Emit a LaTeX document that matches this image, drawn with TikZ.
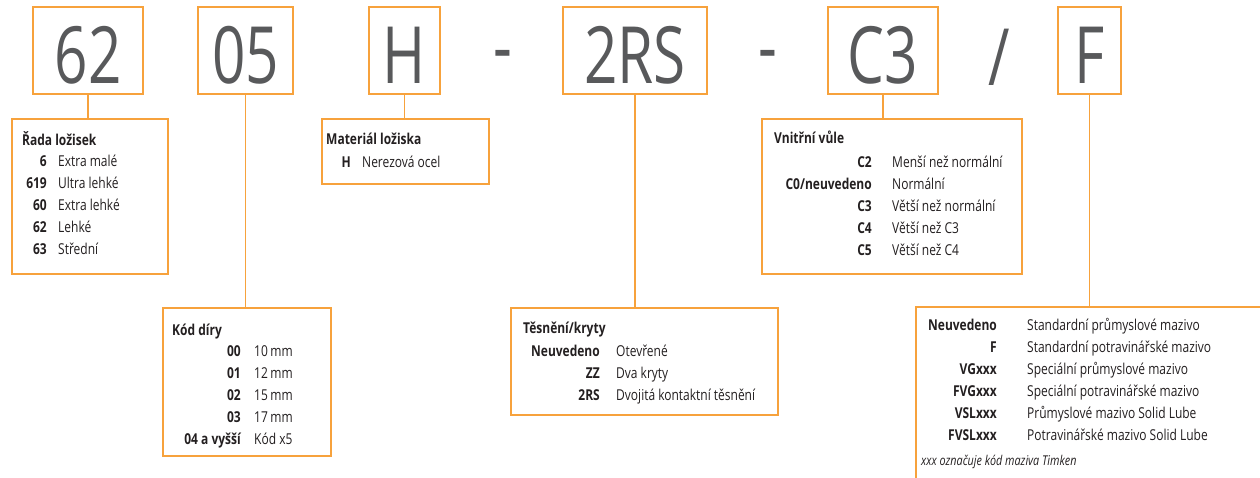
\documentclass[tikz,border=0pt]{standalone}
\usepackage{fontspec}
\setmainfont[FakeStretch=0.8]{Open Sans}
\newfontfamily\bigfont[FakeStretch=0.74]{Open Sans}
\usetikzlibrary{calc}
\definecolor{linkorange}{HTML}{F7A23C}
\definecolor{codegray}{HTML}{58595B}
\definecolor{textblack}{HTML}{231F20}
\newcommand{\legendsize}{\fontsize{15}{17}\selectfont}
\tikzset{
	link/.style={draw=linkorange, line width=1.5pt},
	codebox/.style={
			link, inner sep=0pt, text height=76pt, text depth=11pt,
			minimum width=#1, text=codegray,
			font=\bigfont\fontsize{79}{80}\selectfont
		},
	separator/.style={anchor=base, inner sep=0pt, text=codegray, font=\bigfont\fontsize{79}{80}\selectfont},
	legend/.style={link, anchor=north west, inner sep=0pt},
	title/.style={anchor=base west, inner sep=0pt, text=textblack, font=\bfseries\legendsize},
	code/.style={anchor=base east, inner sep=0pt, text=textblack, font=\bfseries\legendsize},
	desc/.style={anchor=base west, inner sep=0pt, text=textblack, font=\legendsize}
}

\begin{document}
\begin{tikzpicture}[x=1pt, y=-1pt]
		\useasboundingbox (0, 0) rectangle (1260, 477);
		\clip (0, 0) rectangle (1260, 477);

		% designation
		\node[codebox=110] (c62) at (88, 50.5) {62};
		\node[codebox=95] (c05) at (245.5, 50.5) {05};
		\node[codebox=71] (cH) at (404.5, 50.5) {H};
		\node[separator] (dash1) at (503, 74) {-};
		\node[codebox=144] (c2RS) at (635, 50.5) {2RS};
		\node[separator] (dash2) at (768, 74) {-};
		\node[codebox=110] (cC3) at (883, 50.5) {C3};
		\node[separator] (slash) at (999, 85) {/};
		\node[codebox=63] (cF) at (1089.5, 50.5) {F};

		% legend boxes
		\node[legend, minimum width=156, minimum height=155] (rada) at (11, 118) {};
		\node[legend, minimum width=168, minimum height=148] (dira) at (162, 307) {};
		\node[legend, minimum width=167, minimum height=65] (material) at (321, 118) {};
		\node[legend, minimum width=267, minimum height=107] (tesneni) at (510, 307) {};
		\node[legend, minimum width=260, minimum height=155] (vule) at (761, 118) {};
		\node[legend, minimum width=400, minimum height=250] (mazivo) at (915, 306) {};

		\draw[link] (c62.south) -- (c62.south |- rada.north);
		\draw[link] (c05.south) -- (c05.south |- dira.north);
		\draw[link] (cH.south) -- (cH.south |- material.north);
		\draw[link] (c2RS.south) -- (c2RS.south |- tesneni.north);
		\draw[link] (cC3.south) -- (cC3.south |- vule.north);
		\draw[link] (cF.south) -- (cF.south |- mazivo.north);

		% Řada ložisek
		\node[title] (rada-t) at (22, 145) {Řada ložisek};
		\foreach \code/\desc [count=\i] in {6/Extra malé, 619/Ultra lehké, 60/Extra lehké, 62/Lehké, 63/Střední} {
				\node[code] (rada-c\i) at (47, 144+22*\i) {\code};
				\node[desc] (rada-d\i) at (58, 144+22*\i) {\desc};
			}

		% Kód díry
		\node[title] (dira-t) at (172, 335) {Kód díry};
		\foreach \code/\desc [count=\i] in {00/10\,mm, 01/12\,mm, 02/15\,mm, 03/17\,mm, 04 a vyšší/Kód x5} {
				\node[code] (dira-c\i) at (241, 334+22*\i) {\code};
				\node[desc] (dira-d\i) at (254, 334+22*\i) {\desc};
			}

		% Materiál ložiska
		\node[title] (material-t) at (326, 144) {Materiál ložiska};
		\node[code] (material-c1) at (351, 167) {H};
		\node[desc] (material-d1) at (362, 167) {Nerezová ocel};

		% Těsnění/kryty
		\node[title] (tesneni-t) at (523, 333) {Těsnění/kryty};
		\foreach \code/\desc [count=\i] in {Neuvedeno/Otevřené, ZZ/Dva kryty, 2RS/Dvojitá kontaktní těsnění} {
				\node[code] (tesneni-c\i) at (600, 334+22*\i) {\code};
				\node[desc] (tesneni-d\i) at (616, 334+22*\i) {\desc};
			}

		% Vnitřní vůle
		\node[title] (vule-t) at (774, 143) {Vnitřní vůle};
		\foreach \code/\desc [count=\i] in {C2/Menší než normální, {C0/neuvedeno}/Normální, C3/Větší než normální, C4/Větší než C3, C5/Větší než C4} {
				\node[code] (vule-c\i) at (872, 145+22*\i) {\code};
				\node[desc] (vule-d\i) at (892, 145+22*\i) {\desc};
			}

		% mazivo
		\foreach \code/\desc [count=\i] in {Neuvedeno/Standardní průmyslové mazivo, F/Standardní potravinářské mazivo, VGxxx/Speciální průmyslové mazivo, FVGxxx/Speciální potravinářské mazivo, VSLxxx/Průmyslové mazivo Solid Lube, FVSLxxx/Potravinářské mazivo Solid Lube} {
				\node[code] (mazivo-c\i) at (997, 308+22*\i) {\code};
				\node[desc] (mazivo-d\i) at (1027, 308+22*\i) {\desc};
			}
		\node[desc, font=\itshape\fontsize{13.5}{15}\selectfont] (mazivo-note) at (921, 465) {xxx označuje kód maziva Timken};
\end{tikzpicture}
\end{document}
